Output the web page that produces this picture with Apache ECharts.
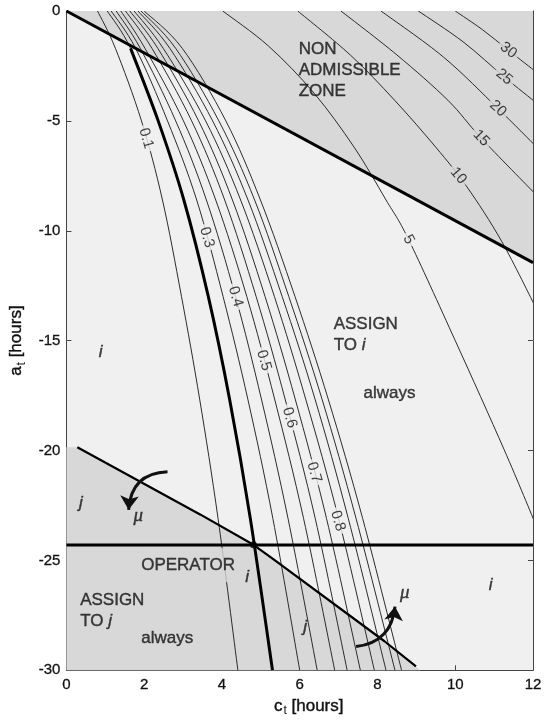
<!DOCTYPE html>
<html><head><meta charset="utf-8">
<script src="https://cdn.jsdelivr.net/npm/echarts@6/dist/echarts.min.js"></script>
<style>html,body{margin:0;padding:0;background:#fff}#c{width:546px;height:722px}</style>
</head><body><div id="c"></div>
<script>
// ---------- data ----------
const xTicks = [0, 2, 4, 6, 8, 10, 12];
const yTicks = [-30, -25, -20, -15, -10, -5, 0];

// a-levels (hours) at which the small-valued contours were read
const levelsA = [0, -1.7, -5, -8.6, -13, -17.7, -23.1, -30];
// c-values (hours) of each contour at those a-levels
const c01 = [0.80, 1.26, 1.93, 2.47, 2.96, 3.43, 3.90, 4.41];
const c02 = [1.05, 1.65, 2.36, 3.02, 3.65, 4.20, 4.73, 5.30];
const c03 = [1.15, 1.78, 2.60, 3.35, 4.03, 4.67, 5.31, 6.00];
const c04 = [1.28, 1.90, 2.81, 3.60, 4.35, 5.02, 5.70, 6.45];
const c05 = [1.40, 2.02, 3.01, 3.84, 4.64, 5.36, 6.10, 6.90];
const c06 = [1.52, 2.20, 3.22, 4.07, 4.88, 5.63, 6.40, 7.22];
const c07 = [1.63, 2.35, 3.40, 4.27, 5.11, 5.89, 6.69, 7.56];
const c08 = [1.74, 2.49, 3.58, 4.48, 5.35, 6.16, 7.00, 7.92];
const c09 = [1.84, 2.66, 3.76, 4.67, 5.55, 6.40, 7.25, 8.22];
const c10 = [1.92, 2.81, 3.92, 4.84, 5.72, 6.58, 7.45, 8.45];
const c11 = [2.00, 2.98, 4.10, 4.99, 5.88, 6.74, 7.62, 8.62];

// large-valued contours, [c, a]
const k5  = [[4.02,0],[5.2,-1.6],[6.37,-3.74],[7.4,-6.2],[8.22,-8.6],[8.8,-10.4],[10.0,-15.0],[11.26,-19.97],[12.1,-23.5]];
const k10 = [[5.95,0],[7.3,-2.0],[8.44,-4.06],[9.5,-6.2],[10.3,-8.0],[11.2,-10.5],[12.1,-13.6]];
const k15 = [[7.06,0],[8.5,-2.0],[9.81,-4.06],[10.67,-5.79],[12.1,-8.4]];
const k20 = [[8.09,0],[9.7,-2.1],[11.1,-4.44],[12.1,-6.2]];
const k25 = [[9.05,0],[10.2,-1.4],[11.26,-3.0],[12.1,-4.2]];
const k30 = [[10.0,0],[10.7,-0.85],[11.37,-1.79],[12.1,-2.8]];

// boundaries
const admissibleLine = [[0,0],[12,-11.45]];
const muLine = [[0.28,-19.85],[3.45,-22.92],[4.81,-24.29],[5.32,-24.94],[8.18,-28.68],[8.99,-29.82]];
const operatorA = -24.3;
const crossing = [4.81,-24.29];
const nonAdmissibleZone = [[0,0],[12,0],[12,-11.45]];
const assignJZone = [[0,-19.85],[0.28,-19.85],[3.45,-22.92],[4.81,-24.29],[5.32,-24.94],[8.18,-28.68],[9.1,-30],[0,-30]];

// contour labels [text, c, a]
const contourLabels = [
  ['0.1',2.05,-5.8],['0.3',3.61,-10.3],['0.4',4.35,-13.0],['0.5',5.08,-15.9],
  ['0.6',5.74,-18.5],['0.7',6.37,-21.0],['0.8',6.98,-23.2],
  ['5',8.8,-10.4],['10',10.08,-7.5],['15',10.67,-5.79],['20',11.1,-4.44],['25',11.26,-3.0],['30',11.37,-1.79]
];
// region / symbol annotations [text, c, a]
const blockTexts = [
  ['NON\nADMISSIBLE\nZONE', 5.96, -2.72],
  ['ASSIGN\nTO i', 6.86, -14.72],
  ['always', 7.63, -17.4],
  ['OPERATOR', 1.91, -25.22],
  ['ASSIGN\nTO j', 0.34, -27.29],
  ['always', 1.91, -28.54]
];
const symbolTexts = [
  ['i', 0.88, -15.51], ['j', 0.37, -22.4], ['μ', 1.85, -23.0], ['i', 4.65, -25.79],
  ['j', 6.14, -28.06], ['μ', 8.7, -26.47], ['i', 10.91, -26.15]
];
// arrows: from -> to
const arrowFrom = [[2.60,-20.97],[7.45,-28.92]];
const arrowTo   = [[1.60,-22.70],[8.45,-27.10]];

// ---------- styling ----------
const FONT = "'Liberation Sans', Arial, Helvetica, sans-serif";
const LIGHT = '#f0f0f0', DARK = '#d8d8d8', INK = '#111', LINE = '#2b2b2b';
const labelRot = [-74,-74,-74,-74,-74,-74,-74,-62,-50,-46,-42,-40,-37];
const labelBg  = [LIGHT,LIGHT,LIGHT,LIGHT,LIGHT,LIGHT,LIGHT,LIGHT,DARK,DARK,DARK,DARK,DARK];

const toPts = cs => cs.map((c, i) => [c, levelsA[i]]);
const bundle = [c01,c02,c03,c04,c05,c06,c07,c08,c09,c10,c11].map(toPts);
const bigOnes = [k5,k10,k15,k20,k25,k30];

// smooth curve through the read points (Catmull-Rom drawn as cubic Bezier, in pixel space)
function splinePath(px) {
  let d = 'M' + px[0][0] + ' ' + px[0][1];
  for (let i = 0; i < px.length - 1; i++) {
    const p0 = px[Math.max(i - 1, 0)], p1 = px[i], p2 = px[i + 1], p3 = px[Math.min(i + 2, px.length - 1)];
    const b1 = [p1[0] + (p2[0] - p0[0]) / 6, p1[1] + (p2[1] - p0[1]) / 6];
    const b2 = [p2[0] - (p3[0] - p1[0]) / 6, p2[1] - (p3[1] - p1[1]) / 6];
    d += ' C' + b1[0] + ' ' + b1[1] + ' ' + b2[0] + ' ' + b2[1] + ' ' + p2[0] + ' ' + p2[1];
  }
  return d;
}
function curveSeries(pts, stroke, width, z) {
  return { type:'custom', silent:true, animation:false, z, data:[[0,0]],
    renderItem:(params, api) => {
      const cs = params.coordSys;
      return { type:'group', clipPath:{ type:'rect', shape:{ x:cs.x, y:cs.y, width:cs.width, height:cs.height } },
        children:[{ type:'path', shape:{ pathData: splinePath(pts.map(q => api.coord(q))) },
          style:{ fill:null, stroke, lineWidth:width } }] };
    } };
}
function polygonSeries(zone, fill) {
  return { type:'custom', silent:true, z:1, animation:false, data:[[0,0]],
    renderItem:(p, api) => ({ type:'polygon', shape:{ points: zone.map(q => api.coord(q)) }, style:{ fill } }) };
}

const series = [];
series.push(polygonSeries(nonAdmissibleZone, DARK));
series.push(polygonSeries(assignJZone, DARK));
[...bundle, ...bigOnes].forEach(pts => series.push(curveSeries(pts, LINE, 1, 2)));

// region texts
const bold = { textBorderColor:INK, textBorderWidth:0.4 };
const rich = {
  n:{ fontFamily:FONT, fontSize:17, color:INK, lineHeight:21, ...bold },
  it:{ fontFamily:FONT, fontSize:17, color:INK, lineHeight:21, fontStyle:'italic', ...bold }
};
const fmtBlock = t => t.split('\n').map(l => l.replace(/^TO ([ij])$/, '{n|TO }{it|$1}').replace(/^([A-Z]+|always)$/, '{n|$1}')).join('\n');
series.push({
  type:'scatter', silent:true, animation:false, z:3, symbolSize:1, itemStyle:{ color:'transparent' },
  data: blockTexts.map(([t, c, a]) => ({
    value:[c, a],
    label:{ show:true, position:'right', distance:0, formatter: fmtBlock(t), rich,
      backgroundColor: t === 'OPERATOR' ? DARK : 'transparent', padding: t === 'OPERATOR' ? [7,2,6,0] : 0 }
  }))
});
series.push({
  type:'scatter', silent:true, animation:false, z:3, symbolSize:1, itemStyle:{ color:'transparent' },
  data: symbolTexts.map(([t, c, a]) => ({
    value:[c, a],
    label:{ show:true, position:'inside', formatter:t, color:INK, fontStyle:'italic', ...bold,
      fontFamily: t === 'μ' ? "'Liberation Serif', 'DejaVu Serif', serif" : FONT,
      fontSize: t === 'μ' ? 19 : 17 }
  }))
});

// thick lines
const thick = { type:'line', symbol:'none', silent:true, animation:false, z:4 };
series.push({ ...thick, data:admissibleLine, lineStyle:{ color:'#000', width:3 } });
series.push(curveSeries(bundle[1].slice(1), '#000', 3, 4));
series.push({ ...thick, data:[[xTicks[0], operatorA],[xTicks[xTicks.length-1], operatorA]], lineStyle:{ color:'#000', width:2.8 } });
series.push({ ...thick, data:muLine, lineStyle:{ color:'#000', width:2.2 } });

// contour labels
series.push({
  type:'scatter', silent:true, animation:false, z:5, symbolSize:1, itemStyle:{ color:'transparent' },
  data: contourLabels.map(([t, c, a], i) => ({
    value:[c, a],
    label:{ show:true, position:'inside', formatter:t, rotate:labelRot[i], color:INK,
      fontFamily:FONT, fontSize:15, backgroundColor:labelBg[i], padding:[0,3] }
  }))
});
// crossing point
series.push({ type:'scatter', silent:true, animation:false, z:6, data:[crossing], symbolSize:7, itemStyle:{ color:'#000' } });
// arrows
series.push({
  type:'lines', coordinateSystem:'cartesian2d', silent:true, animation:false, z:6,
  symbol:['none','arrow'], symbolSize:[0,14],
  data: arrowFrom.map((f, i) => ({ coords:[f, arrowTo[i]], lineStyle:{ curveness: i === 0 ? -0.45 : -0.4 } })),
  lineStyle:{ color:'#111', width:3, opacity:1 }
});

const axisCommon = {
  type:'value', splitLine:{ show:false },
  axisLine:{ show:true, onZero:false, lineStyle:{ color:'#444', width:1 } },
  axisTick:{ show:true, inside:true, length:5, lineStyle:{ color:'#444' } }
};
const tickText = { color:INK, fontFamily:FONT, fontSize:15, textBorderColor:INK, textBorderWidth:0.3 };
const xMin = xTicks[0], xMax = xTicks[xTicks.length-1], yMin = yTicks[0], yMax = yTicks[yTicks.length-1];
const option = {
  animation:false,
  grid:{ left:66, right:13, top:11, bottom:51, show:true, backgroundColor:LIGHT, borderWidth:0 },
  xAxis:[
    { ...axisCommon, position:'bottom', min:xMin, max:xMax, interval:xTicks[1]-xTicks[0],
      axisLabel:{ ...tickText, margin:7 },
      name:'{v|c}{s|t}{v| [hours]}', nameLocation:'middle', nameGap:17,
      nameTextStyle:{ padding:[0,0,0,18], rich:{ v:{ fontFamily:FONT, fontSize:17, color:INK, ...bold }, s:{ fontFamily:FONT, fontSize:12, color:INK, padding:[10,0,0,1] } } } },
    { ...axisCommon, position:'top', min:xMin, max:xMax, interval:xTicks[1]-xTicks[0], axisLabel:{ show:false } }
  ],
  yAxis:[
    { ...axisCommon, position:'left', min:yMin, max:yMax, interval:yTicks[1]-yTicks[0],
      axisLabel:{ ...tickText, margin:6 },
      name:'{v|a}{s|t}{v| [hours]}', nameLocation:'middle', nameGap:38, nameRotate:90,
      nameTextStyle:{ rich:{ v:{ fontFamily:FONT, fontSize:17, color:INK, ...bold }, s:{ fontFamily:FONT, fontSize:12, color:INK, padding:[10,0,0,1] } } } },
    { ...axisCommon, position:'right', min:yMin, max:yMax, interval:yTicks[1]-yTicks[0], axisLabel:{ show:false } }
  ],
  series
};
const chart = echarts.init(document.getElementById('c'), null, { renderer:'canvas' });
chart.setOption(option);
</script></body></html>
